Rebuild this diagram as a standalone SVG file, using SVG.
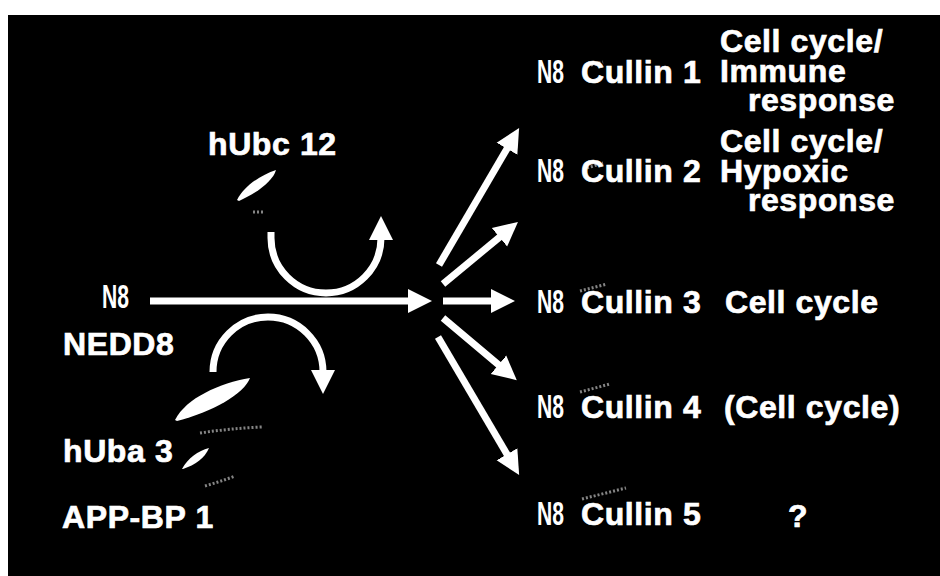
<svg xmlns="http://www.w3.org/2000/svg" width="940" height="576" viewBox="0 0 940 576">
  <defs>
    <style>
      .lbl { font-family: "Liberation Sans", Arial, sans-serif; font-weight: bold; font-size: 32px; fill: #ffffff; stroke: #ffffff; stroke-width: 0.7px; letter-spacing: 0.6px; }
      .tag { font-family: "Liberation Sans", Arial, sans-serif; font-weight: bold; font-size: 33px; fill: #ffffff; }
      .arrow { fill: none; stroke: #ffffff; stroke-width: 7; marker-end: url(#head); }
      .blob { fill: #ffffff; }
      .speck { fill: none; stroke: #bdbdbd; stroke-width: 3; stroke-dasharray: 2 2; opacity: 0.7; }
    </style>
    <marker id="head" markerUnits="userSpaceOnUse" markerWidth="26" markerHeight="26" viewBox="0 -13 26 26" refX="2" refY="0" orient="auto">
      <path d="M0,-12 L24,0 L0,12 Z" fill="#ffffff"/>
    </marker>
  </defs>

  <!-- page and dark panel -->
  <rect x="0" y="0" width="940" height="576" fill="#ffffff"/>
  <rect x="8" y="15" width="932" height="561" fill="#000000"/>

  <!-- connectors -->
  <g id="connectors">
    <line class="arrow" x1="150" y1="301" x2="410" y2="301"/>
    <path class="arrow" d="M271,232 L271,238 A55,55 0 0 0 381,238"/>
    <path class="arrow" d="M213,372 A55,55 0 0 1 323,372"/>
    <line class="arrow" x1="439" y1="265" x2="508" y2="147"/>
    <line class="arrow" x1="443" y1="284" x2="501" y2="236"/>
    <line class="arrow" x1="443" y1="301" x2="493" y2="301"/>
    <line class="arrow" x1="443" y1="318" x2="500" y2="366"/>
    <line class="arrow" x1="438" y1="337" x2="508" y2="456"/>
  </g>

  <!-- conjugating enzyme -->
  <g id="hUbc12">
    <path class="blob" d="M237,200 C244,186 261,175 276,170 C273,181 257,193 239,201 Z"/>
    <path class="speck" d="M253,212 L263,212"/>
    <text class="lbl" x="208" y="155">hUbc 12</text>
  </g>

  <!-- free ubiquitin-like protein -->
  <g id="NEDD8">
    <text class="tag" x="102" y="308" textLength="27" lengthAdjust="spacingAndGlyphs">N8</text>
    <text class="lbl" x="63" y="355">NEDD8</text>
  </g>

  <!-- activating enzyme heterodimer -->
  <g id="hUba3">
    <path class="blob" d="M175,420 C186,398 220,383 250,378 C244,394 212,412 177,421 Z"/>
    <path class="blob" d="M182,469 C188,458 198,451 209,448 C205,458 195,465 183,469 Z"/>
    <path class="speck" d="M200,433 C220,430 240,428 262,427"/>
    <path class="speck" d="M205,486 C215,483 225,480 235,476"/>
    <text class="lbl" x="63" y="462">hUba 3</text>
  </g>
  <g id="APP-BP1">
    <text class="lbl" x="62" y="528">APP-BP 1</text>
  </g>

  <!-- neddylated cullins -->
  <g id="cullin1">
    <text class="tag" x="537" y="83" textLength="27" lengthAdjust="spacingAndGlyphs">N8</text>
    <path class="speck" d="M587,66 L603,62"/>
    <text class="lbl" x="581" y="83">Cullin 1</text>
    <text class="lbl" x="720" y="52">Cell cycle/</text>
    <text class="lbl" x="720" y="82">Immune</text>
    <text class="lbl" x="895" y="111" text-anchor="end">response</text>
  </g>
  <g id="cullin2">
    <text class="tag" x="537" y="182" textLength="27" lengthAdjust="spacingAndGlyphs">N8</text>
    <path class="speck" d="M587,168 L603,163"/>
    <text class="lbl" x="581" y="182">Cullin 2</text>
    <text class="lbl" x="720" y="152">Cell cycle/</text>
    <text class="lbl" x="720" y="182">Hypoxic</text>
    <text class="lbl" x="895" y="211" text-anchor="end">response</text>
  </g>
  <g id="cullin3">
    <text class="tag" x="537" y="313" textLength="27" lengthAdjust="spacingAndGlyphs">N8</text>
    <path class="speck" d="M580,291 L607,284"/>
    <text class="lbl" x="581" y="313">Cullin 3</text>
    <text class="lbl" x="725" y="313">Cell cycle</text>
  </g>
  <g id="cullin4">
    <text class="tag" x="537" y="418" textLength="27" lengthAdjust="spacingAndGlyphs">N8</text>
    <path class="speck" d="M580,392 L610,384"/>
    <text class="lbl" x="581" y="418">Cullin 4</text>
    <text class="lbl" x="724" y="418">(Cell cycle)</text>
  </g>
  <g id="cullin5">
    <text class="tag" x="537" y="525" textLength="27" lengthAdjust="spacingAndGlyphs">N8</text>
    <path class="speck" d="M582,499 L626,488"/>
    <text class="lbl" x="581" y="525">Cullin 5</text>
    <text class="lbl" x="788" y="527">?</text>
  </g>
</svg>
